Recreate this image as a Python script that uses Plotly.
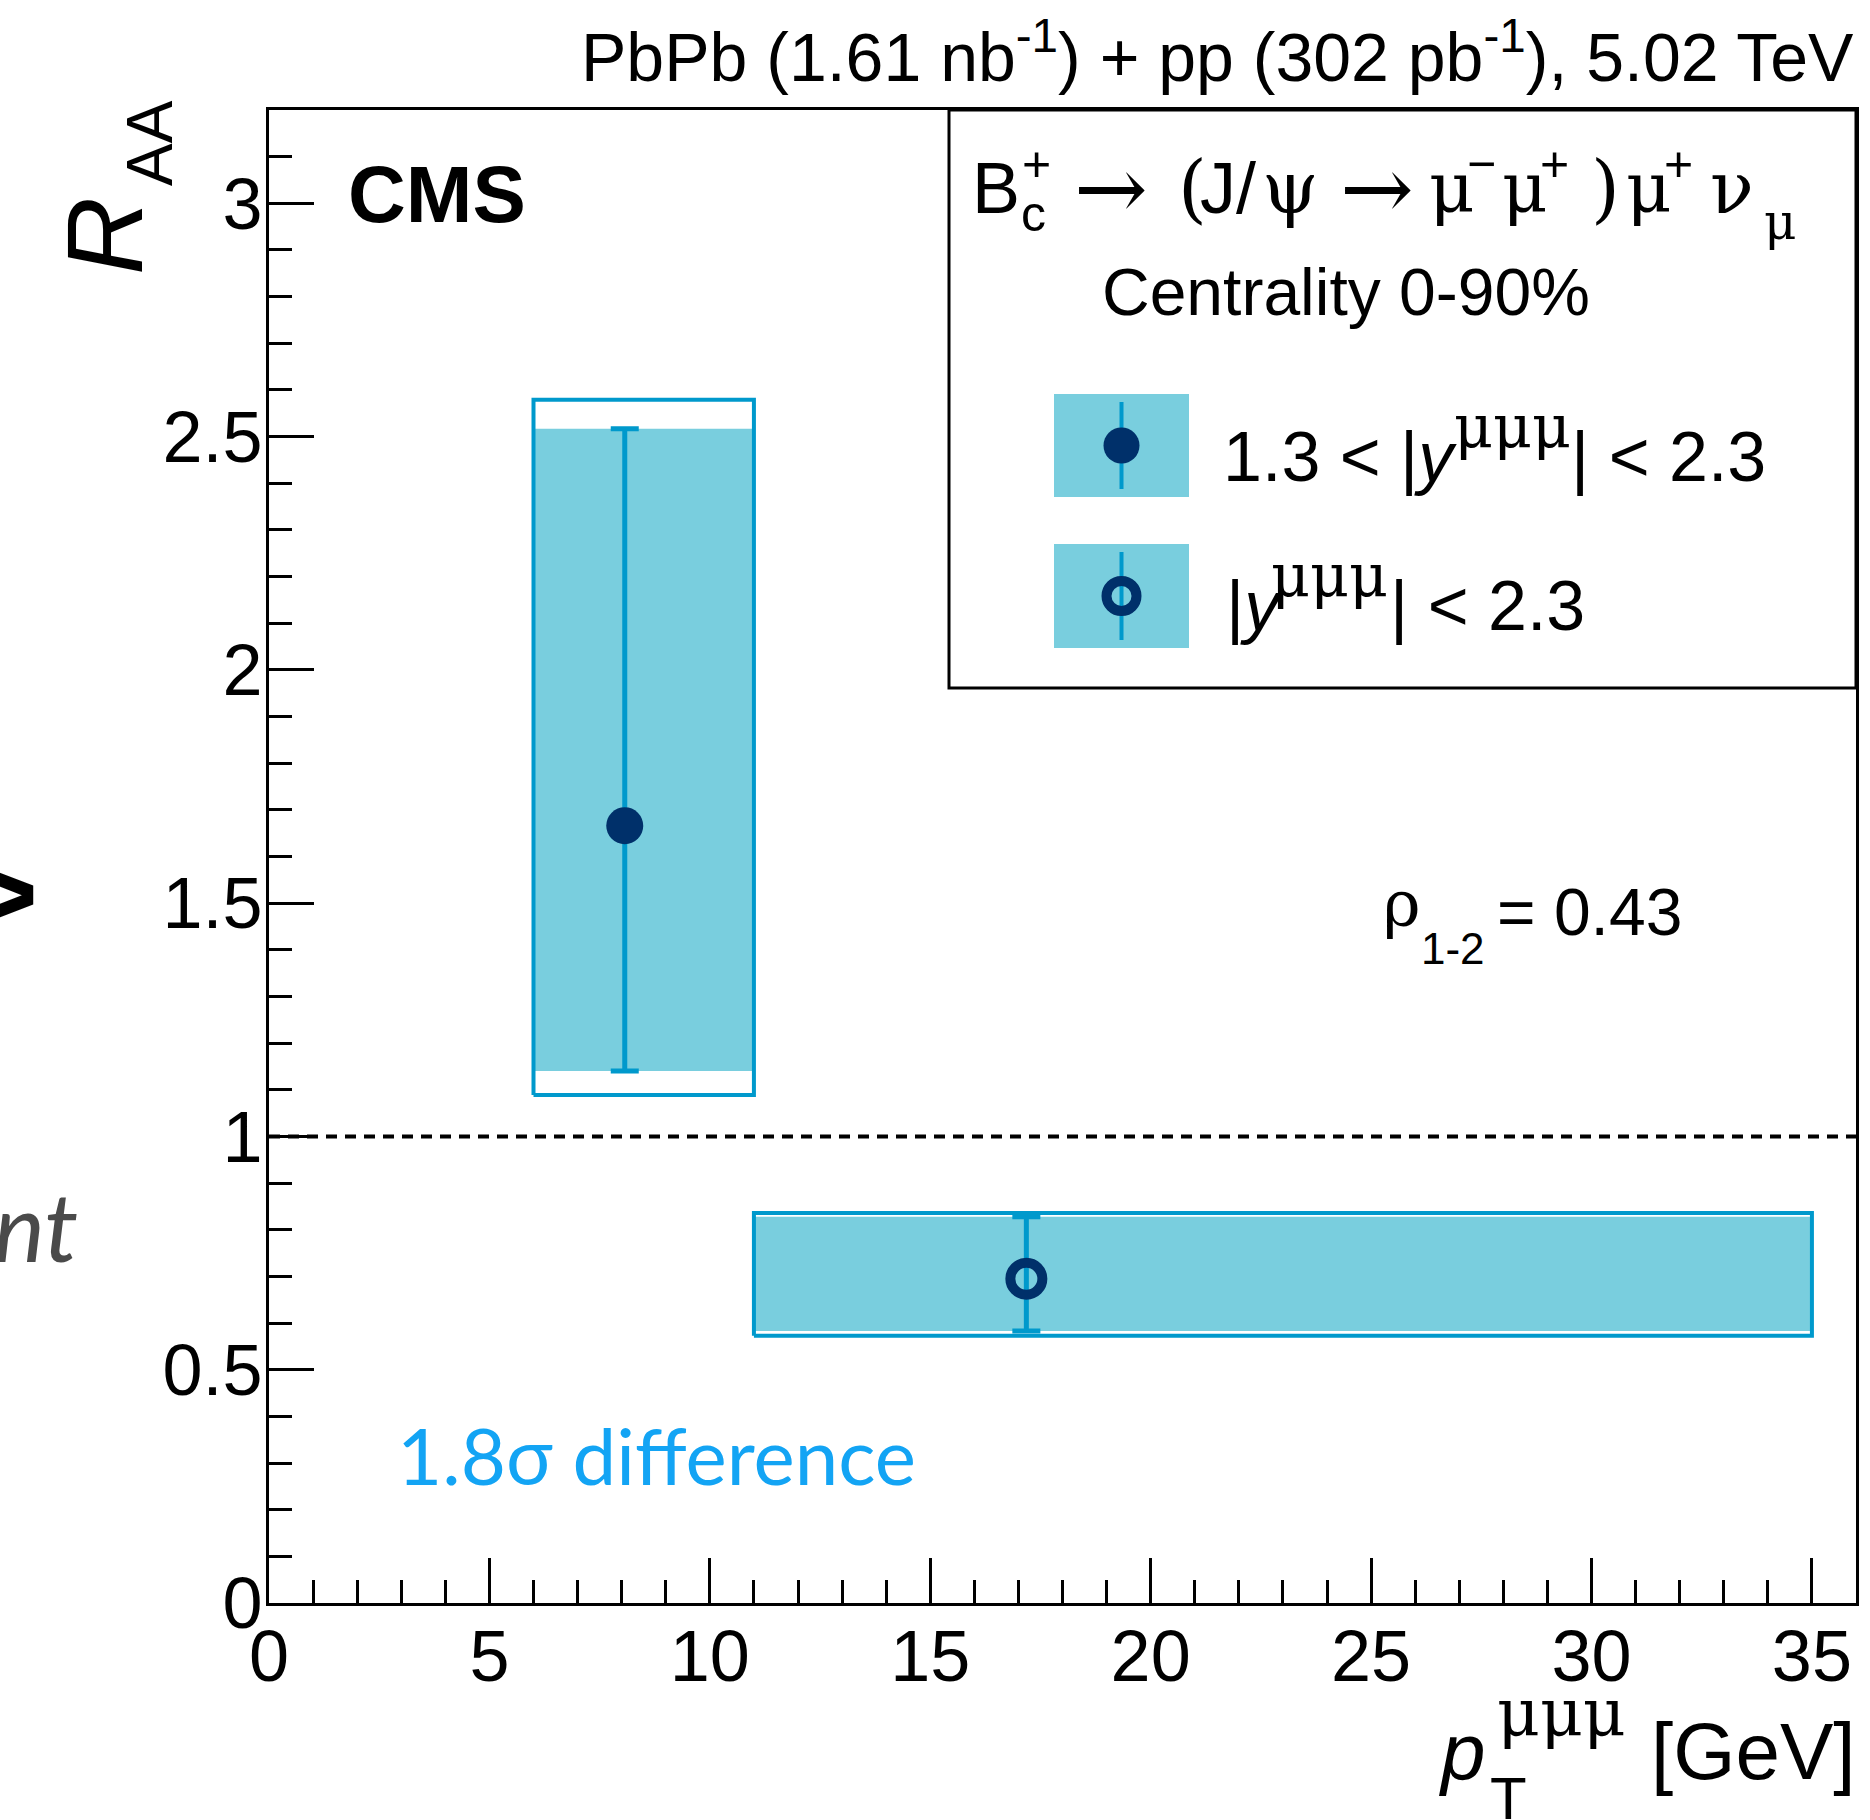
import plotly.graph_objects as go

# ---------------- data ----------------
pt_lo = [6.0, 11.0]
pt_hi = [11.0, 35.0]
pt_mean = [8.07, 17.18]
raa = [1.666, 0.695]
stat_up = [0.851, 0.133]
stat_dn = [0.526, 0.112]
syst_up = [0.913, 0.141]
syst_dn = [0.577, 0.122]
marker_symbols = ["circle", "circle-open"]
x_range = [0, 36]
y_range = [0, 3.2]
ref_value = 1.0
x_ticks = [0, 5, 10, 15, 20, 25, 30, 35]
y_ticks = [0, 0.5, 1, 1.5, 2, 2.5, 3]

# ---------------- style ----------------
W, H = 1870, 1820
L, R, T, B = 269, 14, 110, 217
PW, PH = W - L - R, H - T - B
FILL = "#79CEDE"
LINE = "#0099CC"
NAVY = "#00306A"
SANS = "Liberation Sans"
SERIF = "DejaVu Serif"


def px(xp):
    return (xp - L) / PW


def py(yp):
    return (H - B - yp) / PH


fig = go.Figure()

# stat fill boxes and outlined boxes
for i in range(len(raa)):
    xs = [pt_lo[i], pt_hi[i], pt_hi[i], pt_lo[i], pt_lo[i]]
    ys_f = [raa[i] - stat_dn[i]] * 2 + [raa[i] + stat_up[i]] * 2 + [raa[i] - stat_dn[i]]
    fig.add_trace(go.Scatter(x=xs, y=ys_f, mode="lines", fill="toself", fillcolor=FILL,
                             line=dict(width=0, color=FILL), hoverinfo="skip", showlegend=False))
    ys_o = [raa[i] - syst_dn[i]] * 2 + [raa[i] + syst_up[i]] * 2 + [raa[i] - syst_dn[i]]
    fig.add_trace(go.Scatter(x=xs, y=ys_o, mode="lines", line=dict(width=4, color=LINE),
                             hoverinfo="skip", showlegend=False))

# reference line
fig.add_trace(go.Scatter(x=x_range, y=[ref_value, ref_value], mode="lines",
                         line=dict(color="black", width=4, dash="11px,8px"),
                         hoverinfo="skip", showlegend=False))

# points
for i in range(len(raa)):
    fig.add_trace(go.Scatter(
        x=[pt_mean[i]], y=[raa[i]], mode="markers",
        marker=dict(symbol=marker_symbols[i], size=37 if i == 0 else 32, color=NAVY,
                    line=dict(width=10 if i == 1 else 0, color=NAVY)),
        error_y=dict(type="data", array=[stat_up[i]], arrayminus=[stat_dn[i]],
                     color=LINE, thickness=5, width=14),
        showlegend=False, hoverinfo="skip"))

# legend entries (overlay axes in paper-fraction units)
sw_x0, sw_x1 = px(1054), px(1189)
sw_rows = [(394, 497), (544, 648)]
shapes = [dict(type="rect", xref="paper", yref="paper", x0=px(949), x1=1.0,
               y0=py(688), y1=1.0, line=dict(color="black", width=3),
               fillcolor="white", layer="below")]
for i, (a, b) in enumerate(sw_rows):
    shapes.append(dict(type="rect", xref="paper", yref="paper", x0=sw_x0, x1=sw_x1,
                       y0=py(b), y1=py(a), line=dict(width=0), fillcolor=FILL, layer="below"))
    cx = (sw_x0 + sw_x1) / 2
    fig.add_trace(go.Scatter(x=[cx, cx], y=[py(a + 8), py(b - 8)], mode="lines",
                             line=dict(color=LINE, width=4), xaxis="x2", yaxis="y2",
                             showlegend=False, hoverinfo="skip"))
    fig.add_trace(go.Scatter(x=[cx], y=[py((a + b) / 2)], mode="markers",
                             marker=dict(symbol=marker_symbols[i], size=36 if i == 0 else 30,
                                         color=NAVY, line=dict(width=10 if i == 1 else 0, color=NAVY)),
                             xaxis="x2", yaxis="y2", showlegend=False, hoverinfo="skip"))

ann = []


def txt(s, x, y, size, family=SANS, xanchor="left", color="black", angle=0, yanchor="middle"):
    ann.append(dict(text=s, x=px(x), y=py(y), xanchor=xanchor, yanchor=yanchor,
                    textangle=angle, xref="paper", yref="paper", showarrow=False,
                    font=dict(family=family, size=size, color=color)))


# top luminosity label
txt("PbPb (1.61 nb<sup>-1</sup>) + pp (302 pb<sup>-1</sup>), 5.02 TeV", 1856, 52, 68, xanchor="right")
# CMS
txt("<b>CMS</b>", 346, 194, 80)
# legend header pieces
hy, sup_y, sub_y = 188, 164, 214
txt("B", 970, hy, 72)
txt("c", 1019, sub_y, 50)
txt("+", 1020, sup_y, 50)
txt("→", 1072, hy, 88, SERIF)
txt("(", 1176, hy, 74, SERIF)
txt("J/", 1198, hy, 72)
txt("ψ", 1260, hy, 72, SERIF)
txt("→", 1338, hy, 88, SERIF)
txt("μ", 1427, hy, 70, SERIF)
txt("−", 1465, sup_y, 50)
txt("μ", 1500, hy, 70, SERIF)
txt("+", 1538, sup_y, 50)
txt(")", 1589, hy, 74, SERIF)
txt("μ", 1624, hy, 70, SERIF)
txt("+", 1662, sup_y, 50)
txt("ν", 1708, hy, 72, SERIF)
txt("μ", 1762, 222, 50, SERIF)
txt("Centrality 0-90%", 1100, 292, 66)
# legend entries
txt("1.3 < |<i>y</i>", 1221, 457, 70)
txt("μμμ", 1452, 427, 60, SERIF)
txt("| < 2.3", 1569, 457, 70)
txt("|<i>y</i>", 1224, 606, 70)
txt("μμμ", 1269, 576, 60, SERIF)
txt("| < 2.3", 1388, 606, 70)
# correlation
txt("ρ", 1381, 904, 64, SERIF)
txt("1-2", 1419, 948, 44)
txt("= 0.43", 1495, 912, 66)
# significance
txt("1.8σ difference", 395, 1455, 78, family="Lato", color="#13A4F4")
# cropped overlay fragments at left edge
txt("<i>nt</i>", 80, 1224, 96, family="Lato", xanchor="right", color="#4a4a4a")
txt("<b>&gt;</b>", 40, 893, 120, xanchor="right")
# axis titles
txt("<i>R</i>", 105, 236, 108, xanchor="center", angle=-90)
txt("AA", 150, 143, 64, xanchor="center", angle=-90)
txt("<i>p</i>", 1437, 1751, 80)
txt("μμμ", 1495, 1712, 66, SERIF)
txt("T", 1488, 1799, 60)
txt("[GeV]", 1858, 1751, 80, xanchor="right")

axis_common = dict(showline=True, linecolor="black", linewidth=3, mirror=True,
                   ticks="inside", ticklen=45, tickwidth=3, tickcolor="black",
                   showgrid=False, zeroline=False, ticklabelstandoff=-11,
                   tickfont=dict(family=SANS, size=72, color="black"))
fig.update_layout(
    width=W, height=H, autosize=False,
    margin=dict(l=L, r=R, t=T, b=B, pad=0),
    paper_bgcolor="white", plot_bgcolor="white",
    xaxis=dict(range=x_range, tickvals=x_ticks,
               minor=dict(ticks="inside", ticklen=23, dtick=1, tick0=0, tickwidth=3, tickcolor="black"),
               **axis_common),
    yaxis=dict(range=y_range, tickvals=y_ticks,
               minor=dict(ticks="inside", ticklen=23, dtick=0.1, tick0=0, tickwidth=3, tickcolor="black"),
               **axis_common),
    xaxis2=dict(overlaying="x", range=[0, 1], visible=False),
    yaxis2=dict(overlaying="y", range=[0, 1], visible=False),
    shapes=shapes, annotations=ann, showlegend=False,
)

fig.write_html("out.html")
